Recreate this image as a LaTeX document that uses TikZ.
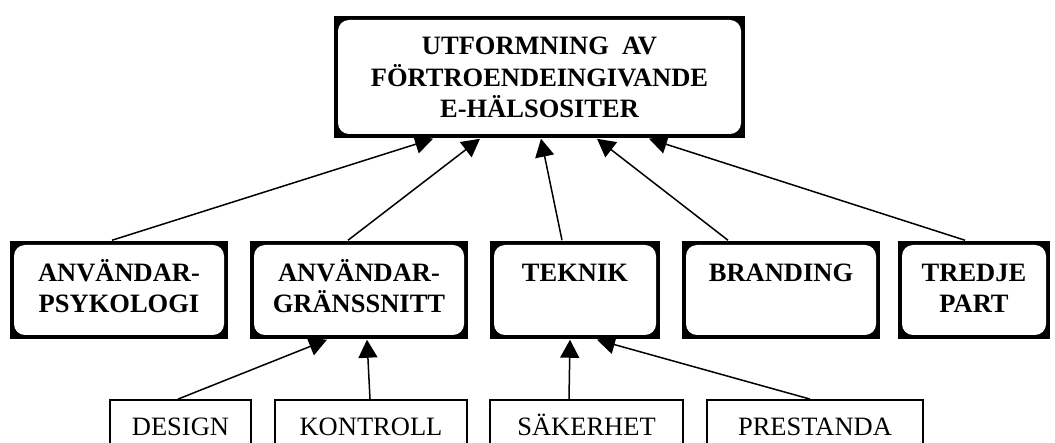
\documentclass[tikz,border=0pt]{standalone}
\usepackage{fontspec}
\setmainfont{Liberation Serif}
\usetikzlibrary{arrows.meta}

% fixed-size text block: width, height, first baseline below top, text
\newcommand{\boxtxt}[4]{\parbox[c][#2pt][t]{#1pt}{\centering\rule{0pt}{#3pt}#4}}

\begin{document}
\begin{tikzpicture}[
  x=1pt, y=-1pt,
  >={Triangle[length=18pt,width=19pt]},
  line width=1.5pt,
  framebox/.style={inner sep=0pt, fill=white,
    font=\fontsize{26.5}{31}\selectfont\bfseries,
    path picture={
      \fill[black] (path picture bounding box.south west)
        rectangle (path picture bounding box.north east);
      \fill[white, rounded corners=11pt]
        ([shift={(4pt,4pt)}]path picture bounding box.south west)
        rectangle ([shift={(-4pt,-4pt)}]path picture bounding box.north east);
    }},
  thinbox/.style={draw, line width=1.8pt, inner sep=0pt,
    font=\fontsize{26.5}{31}\selectfont}
]
\useasboundingbox (0,0) rectangle (1055,443);

% -----------------------
% Layout parameters
% -----------------------
\def\yTop{77}
\def\yMid{290}
\def\yLow{430}

% -----------------------
% Goal
% -----------------------
\node[framebox, font=\fontsize{26.5}{31.5}\selectfont\bfseries] (site) at (539.5,\yTop)
  {\boxtxt{411}{122}{39}{UTFORMNING\ \ AV\\FÖRTROENDEINGIVANDE\\E-HÄLSOSITER}};

% -----------------------
% Factors
% -----------------------
\node[framebox] (psyk)   at (119,\yMid) {\boxtxt{218}{98}{41}{ANVÄNDAR-\\PSYKOLOGI}};
\node[framebox] (grans)  at (359,\yMid) {\boxtxt{218}{98}{41}{ANVÄNDAR-\\GRÄNSSNITT}};
\node[framebox] (teknik) at (575,\yMid) {\boxtxt{170}{98}{41}{TEKNIK}};
\node[framebox] (brand)  at (781,\yMid) {\boxtxt{198}{98}{41}{BRANDING}};
\node[framebox] (tredje) at (974,\yMid) {\boxtxt{152}{98}{41}{TREDJE\\PART}};

\draw[->] ([xshift=-7pt]psyk.north)    -- ([xshift=-106.5pt]site.south);
\draw[->] ([xshift=-11pt]grans.north)  -- ([xshift=-59.5pt]site.south);
\draw[->] ([xshift=-13pt]teknik.north) -- ([xshift=1.5pt]site.south);
\draw[->] ([xshift=-53pt]brand.north)  -- ([xshift=57.5pt]site.south);
\draw[->] ([xshift=-9pt]tredje.north)  -- ([xshift=109.5pt]site.south);

% -----------------------
% Sub-factors
% -----------------------
\node[thinbox] (design)   at (180.5,\yLow) {\boxtxt{141}{60}{35}{DESIGN}};
\node[thinbox] (kontroll) at (371,\yLow)   {\boxtxt{192}{60}{35}{KONTROLL}};
\node[thinbox] (saker)    at (586.5,\yLow) {\boxtxt{193}{60}{35}{SÄKERHET}};
\node[thinbox] (prest)    at (815,\yLow)   {\boxtxt{216}{60}{35}{PRESTANDA}};

\draw[->] ([xshift=-2.5pt]design.north) -- ([xshift=-32pt]grans.south);
\draw[->] ([xshift=-1pt]kontroll.north) -- ([xshift=8pt]grans.south);
\draw[->] ([xshift=-17.5pt]saker.north) -- ([xshift=-5pt]teknik.south);
\draw[->] ([xshift=-5pt]prest.north)    -- ([xshift=22pt]teknik.south);

\end{tikzpicture}
\end{document}
